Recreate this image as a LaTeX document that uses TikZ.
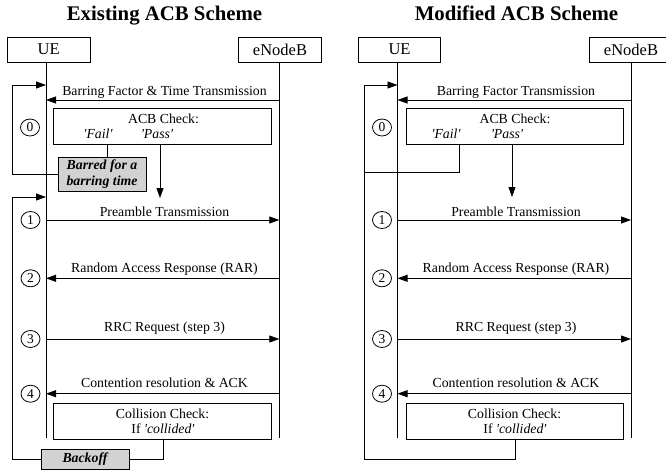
\documentclass[tikz,border=0pt]{standalone}
\usepackage{fontspec}
\newfontfamily\tnr{Liberation Serif}
\usetikzlibrary{arrows.meta,shapes.geometric}
\begin{document}
\begin{tikzpicture}[x=1pt,y=-1pt,line width=0.8pt,
  lbl/.style={font=\tnr\fontsize{13.8}{16}\selectfont, inner sep=0pt, anchor=base},
  ttl/.style={font=\tnr\fontsize{20.8}{24}\selectfont\bfseries, inner sep=0pt, anchor=base},
  hdrbox/.style={draw, minimum height=25pt, inner sep=0pt, font=\tnr\fontsize{16.5}{19}\selectfont},
  chkbox/.style={draw, fill=white, minimum width=218pt, minimum height=36pt, inner sep=0pt},
  greybox/.style={draw, fill=gray!35, inner sep=0pt, align=center, font=\tnr\fontsize{13.8}{16}\selectfont\bfseries\itshape},
  numc/.style={ellipse, draw, minimum width=19pt, minimum height=17pt, inner sep=0pt, font=\tnr\fontsize{13.5}{15}\selectfont},
  msg/.style={-{Triangle[length=10pt,width=7pt]}}
]
\useasboundingbox (0,0) rectangle (666,472);

%================ LEFT PANEL =================
\node[ttl] (Ltitle) at (164.5,20.5) {Existing ACB Scheme};
\node[hdrbox, minimum width=82.7pt] (LUE) at (48.7,49.5) {UE};
\node[hdrbox, minimum width=83.4pt] (LENB) at (280,49.5) {eNodeB};
\coordinate (LUEt) at (46,62);   \coordinate (LUEb) at (46,438);
\coordinate (LENBt) at (279.3,62); \coordinate (LENBb) at (279.3,438);
\draw (LUEt) -- (LUEb);
\draw (LENBt) -- (LENBb);

% step 0
\coordinate (LB0) at (279.3,100); \coordinate (LU0) at (46,100);
\draw[msg] (LB0) -- (LU0);
\node[lbl] (Lm0) at (164.5,95) {Barring Factor \& Time Transmission};
\node[numc] (Ln0) at (30,127.5) {0};
\node[chkbox] (LACB) at (162,126) {};
\node[lbl] (LACBt) at (163.5,123) {ACB Check:};
\node[lbl] (LFail) at (98,138.5) {\itshape 'Fail'};
\node[lbl] (LPass) at (157,138.5) {\itshape 'Pass'};
\node[greybox, minimum width=88pt, minimum height=34pt] (LBar) at (102,174) {Barred for a\\barring time};
\coordinate (LFailS) at (107,144);
\draw (LFailS) -- (LFailS |- LBar.north);
\coordinate (LPassS) at (160,144); \coordinate (LPassE) at (160,198);
\draw[msg] (LPassS) -- (LPassE);
\coordinate (LLoopA) at (12,85); \coordinate (LLoopAE) at (46,85);
\draw[msg] (LBar.west) -| (LLoopA) -- (LLoopAE);

% steps 1-4
\node[numc] (Ln1) at (30.5,220) {1};
\coordinate (LU1) at (46,220); \coordinate (LB1) at (279.3,220);
\draw[msg] (LU1) -- (LB1);
\node[lbl] (Lm1) at (164.5,216) {Preamble Transmission};

\node[numc] (Ln2) at (30.5,278.3) {2};
\coordinate (LU2) at (46,278.3); \coordinate (LB2) at (279.3,278.3);
\draw[msg] (LB2) -- (LU2);
\node[lbl] (Lm2) at (164.5,272) {Random Access Response (RAR)};

\node[numc] (Ln3) at (30.5,339) {3};
\coordinate (LU3) at (46,339); \coordinate (LB3) at (279.3,339);
\draw[msg] (LU3) -- (LB3);
\node[lbl] (Lm3) at (164.5,331) {RRC Request (step 3)};

\node[numc] (Ln4) at (30.5,393.7) {4};
\coordinate (LU4) at (46,393.7); \coordinate (LB4) at (279.3,393.7);
\draw[msg] (LB4) -- (LU4);
\node[lbl] (Lm4) at (164.5,387) {Contention resolution \& ACK};

\node[chkbox] (LCol) at (162,421) {};
\node[lbl] (LColt) at (162.5,418) {Collision Check:};
\node[lbl] (LColi) at (163,433) {If \textit{'collided'}};
\node[greybox, minimum width=88pt, minimum height=20pt] (LBack) at (85,459) {Backoff};
\coordinate (LColS) at (163,439);
\draw (LColS) |- (LBack.east);
\coordinate (LLoopB) at (12,197); \coordinate (LLoopBE) at (46,197);
\draw[msg] (LBack.west) -| (LLoopB) -- (LLoopBE);

%================ RIGHT PANEL =================
\node[ttl] (Rtitle) at (516.5,20.5) {Modified ACB Scheme};
\node[hdrbox, minimum width=82.4pt] (RUE) at (399.5,49.5) {UE};
\begin{scope}
\clip (0,0) rectangle (666,472);
\node[hdrbox, minimum width=83.4pt] (RENB) at (631,49.5) {eNodeB};
\end{scope}
\coordinate (RUEt) at (397.5,62);  \coordinate (RUEb) at (397.5,438);
\coordinate (RENBt) at (631,62);   \coordinate (RENBb) at (631,438);
\draw (RUEt) -- (RUEb);
\draw (RENBt) -- (RENBb);

\coordinate (RB0) at (631,100); \coordinate (RU0) at (397.5,100);
\draw[msg] (RB0) -- (RU0);
\node[lbl] (Rm0) at (516,95) {Barring Factor Transmission};
\node[numc] (Rn0) at (382,127.5) {0};
\node[chkbox, minimum width=217pt] (RACB) at (514.5,126) {};
\node[lbl] (RACBt) at (515,123) {ACB Check:};
\node[lbl] (RFail) at (446,138.5) {\itshape 'Fail'};
\node[lbl] (RPass) at (507,138.5) {\itshape 'Pass'};
\coordinate (RFailS) at (459,144); \coordinate (RFailE) at (364,172);
\draw (RFailS) |- (RFailE);
\coordinate (RPassS) at (512,144); \coordinate (RPassE) at (512,197);
\draw[msg] (RPassS) -- (RPassE);

\node[numc] (Rn1) at (382,220) {1};
\coordinate (RU1) at (397.5,220); \coordinate (RB1) at (631,220);
\draw[msg] (RU1) -- (RB1);
\node[lbl] (Rm1) at (516,216) {Preamble Transmission};

\node[numc] (Rn2) at (382,278.3) {2};
\coordinate (RU2) at (397.5,278.3); \coordinate (RB2) at (631,278.3);
\draw[msg] (RB2) -- (RU2);
\node[lbl] (Rm2) at (516,272) {Random Access Response (RAR)};

\node[numc] (Rn3) at (382,339) {3};
\coordinate (RU3) at (397.5,339); \coordinate (RB3) at (631,339);
\draw[msg] (RU3) -- (RB3);
\node[lbl] (Rm3) at (516,331) {RRC Request (step 3)};

\node[numc] (Rn4) at (382,393.7) {4};
\coordinate (RU4) at (397.5,393.7); \coordinate (RB4) at (631,393.7);
\draw[msg] (RB4) -- (RU4);
\node[lbl] (Rm4) at (516,387) {Contention resolution \& ACK};

\node[chkbox, minimum width=217pt] (RCol) at (514.5,421) {};
\node[lbl] (RColt) at (514.5,418) {Collision Check:};
\node[lbl] (RColi) at (515,433) {If \textit{'collided'}};
\coordinate (RColS) at (515,439); \coordinate (RLoopC) at (364,459);
\coordinate (RLoopA) at (364,85); \coordinate (RLoopAE) at (397.5,85);
\draw[msg] (RColS) |- (RLoopC) -- (RLoopA) -- (RLoopAE);
\end{tikzpicture}
\end{document}
